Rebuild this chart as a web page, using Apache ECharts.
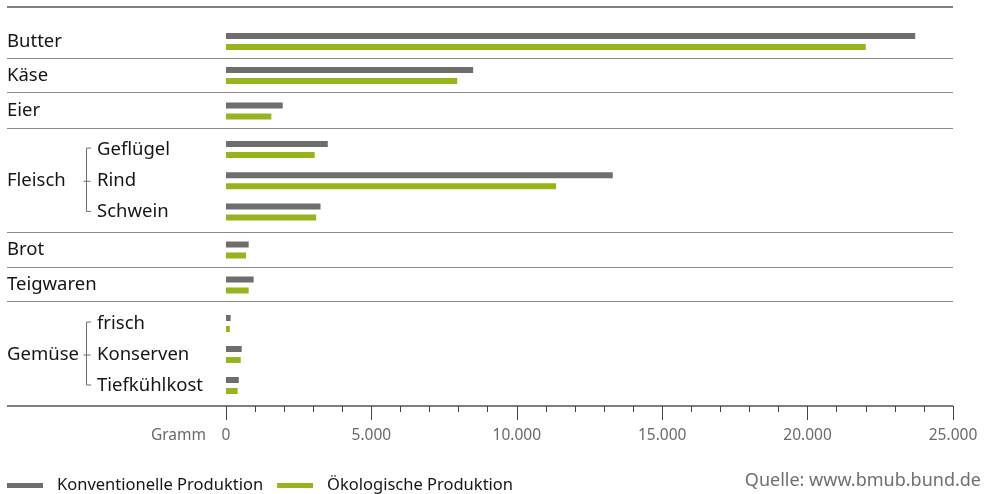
<!DOCTYPE html>
<html>
<head>
<meta charset="utf-8">
<script src="https://cdn.jsdelivr.net/npm/echarts@6/dist/echarts.min.js"></script>
<style>
  html, body { margin: 0; padding: 0; background: #ffffff; }
  #chart { width: 988px; height: 494px; }
</style>
</head>
<body>
<div id="chart"></div>
<script>
// Verbrauch je Lebensmittel in Gramm
const categories   = ['Butter', 'Käse', 'Eier', 'Geflügel', 'Rind', 'Schwein', 'Brot', 'Teigwaren', 'frisch', 'Konserven', 'Tiefkühlkost'];
const groupOf      = ['Butter', 'Käse', 'Eier', 'Fleisch', 'Fleisch', 'Fleisch', 'Brot', 'Teigwaren', 'Gemüse', 'Gemüse', 'Gemüse'];
const konventionell = [23700, 8500, 1950, 3500, 13300, 3250, 780, 950, 160, 540, 440];
const oekologisch   = [22000, 7950, 1560, 3050, 11350, 3100, 690, 780, 130, 505, 400];
const seriesNames  = ['Konventionelle Produktion', 'Ökologische Produktion'];
const axisMax   = 25000;
const majorStep = 5000;
const unitLabel = 'Gramm';
const sourceText = 'Quelle: www.bmub.bund.de';

// ---- layout ----
const FONT = '"Noto Sans", "Open Sans", sans-serif';
const LABEL_SIZE = 18.5;
const PLOT_LEFT = 226, PLOT_RIGHT = 35, TEXT_LEFT = 7, LINE_RIGHT = 953;
const SUB_OFFSET = 90;            // start of sub labels relative to group label
const COLORS = ['#6e6e6c', '#96b41e'];
// band (top, height) per group, in order of appearance
const groupBands = [
  [25, 33], [59, 33], [94, 34], [134, 93.5], [233, 34], [268, 34], [308, 93]
];
const separatorsY = [58.5, 92.5, 128.5, 232.5, 267.5, 301.5];
const TOP_LINE_Y = 7, AXIS_Y = 406;

const fmt = v => String(v).replace(/\B(?=(\d{3})+(?!\d))/g, '.');

// collect groups in order
const groups = [];
categories.forEach((c, i) => {
  let g = groups.find(x => x.name === groupOf[i]);
  if (!g) { g = { name: groupOf[i], idx: [] }; groups.push(g); }
  g.idx.push(i);
});

const grid = [], xAxis = [], yAxis = [], series = [];
groups.forEach((g, gi) => {
  const last = gi === groups.length - 1;
  const cats = g.idx.map(i => categories[i]);
  const multi = cats.length > 1;
  const mid = Math.floor(cats.length / 2);
  grid.push({ left: PLOT_LEFT, right: PLOT_RIGHT, top: groupBands[gi][0], height: groupBands[gi][1] });
  xAxis.push({
    type: 'value', gridIndex: gi, min: 0, max: axisMax, interval: majorStep,
    show: last,
    offset: last ? AXIS_Y - (groupBands[gi][0] + groupBands[gi][1]) : 0,
    axisLine: { show: false },
    axisTick: { show: true, length: 14, lineStyle: { color: '#444', width: 1 } },
    minorTick: { show: true, splitNumber: 5, length: 6, lineStyle: { color: '#444', width: 1 } },
    splitLine: { show: false },
    axisLabel: { margin: 22, color: '#6a6a6a', fontFamily: FONT, fontSize: 15.5, formatter: fmt },
    name: last ? unitLabel : '',
    nameLocation: 'start', nameGap: 20,
    nameTextStyle: { color: '#6a6a6a', fontFamily: FONT, fontSize: 15.5, verticalAlign: 'top', padding: [22, 0, 0, 0] }
  });
  yAxis.push({
    type: 'category', gridIndex: gi, data: cats, inverse: true,
    axisLine: { show: false }, axisTick: { show: false }, splitLine: { show: false },
    axisLabel: {
      margin: PLOT_LEFT - TEXT_LEFT, align: 'left', color: '#151515',
      fontFamily: FONT, fontSize: LABEL_SIZE,
      formatter: (v, i) => multi
        ? '{grp|' + (i === mid ? g.name : ' ') + '}{sub|' + v + '}'
        : '{grp|' + v + '}',
      rich: {
        grp: { width: multi ? SUB_OFFSET : null, fontFamily: FONT, fontSize: LABEL_SIZE, color: '#151515' },
        sub: { fontFamily: FONT, fontSize: LABEL_SIZE, color: '#151515' }
      }
    }
  });
  [konventionell, oekologisch].forEach((vals, si) => {
    series.push({
      type: 'bar', name: seriesNames[si], xAxisIndex: gi, yAxisIndex: gi,
      data: g.idx.map(i => vals[i]),
      barWidth: 6, barGap: '83%',
      itemStyle: { color: COLORS[si] },
      emphasis: { disabled: true }
    });
  });
});

const chart = echarts.init(document.getElementById('chart'), null, { renderer: 'canvas' });
chart.setOption({
  animation: false,
  backgroundColor: '#ffffff',
  grid, xAxis, yAxis, series,
  legend: {
    left: TEXT_LEFT - 5, top: 472, icon: 'rect', itemWidth: 36, itemHeight: 5, itemGap: 14,
    data: seriesNames,
    textStyle: { fontFamily: FONT, fontSize: 16.5, color: '#151515', padding: [0, 0, 0, 9] },
    selectedMode: false
  }
});

// separators, axis base line, brackets and source note
const graphic = [];
const hLine = (x1, x2, y, color, w) => graphic.push({
  type: 'line', shape: { x1, y1: y, x2, y2: y }, style: { stroke: color, lineWidth: w }, silent: true
});
hLine(TEXT_LEFT, LINE_RIGHT, TOP_LINE_Y, '#555555', 1.5);
separatorsY.forEach(y => hLine(TEXT_LEFT, LINE_RIGHT, y, '#8a8a8a', 1.2));
hLine(TEXT_LEFT, LINE_RIGHT, AXIS_Y, '#555555', 1.5);

groups.forEach((g, gi) => {
  if (g.idx.length < 2) return;
  const ys = g.idx.map(i => chart.convertToPixel({ yAxisIndex: gi }, categories[i]));
  const bx = 86.5;
  const top = ys[0] - 1.5, bot = ys[ys.length - 1] - 0.5;
  const midY = ys[Math.floor(ys.length / 2)] + 0.5;
  const st = { stroke: '#6f6f6f', lineWidth: 1 };
  graphic.push({ type: 'polyline', shape: { points: [[bx + 4.5, top], [bx, top], [bx, bot], [bx + 4.5, bot]] }, style: st, silent: true });
  graphic.push({ type: 'line', shape: { x1: bx - 3, y1: midY, x2: bx + 4, y2: midY }, style: st, silent: true });
});

graphic.push({
  type: 'text', right: 7, top: 472,
  style: { text: sourceText, fill: '#6f6f6f', font: '18px ' + FONT, textAlign: 'right' },
  silent: true
});
chart.setOption({ graphic });
</script>
</body>
</html>
